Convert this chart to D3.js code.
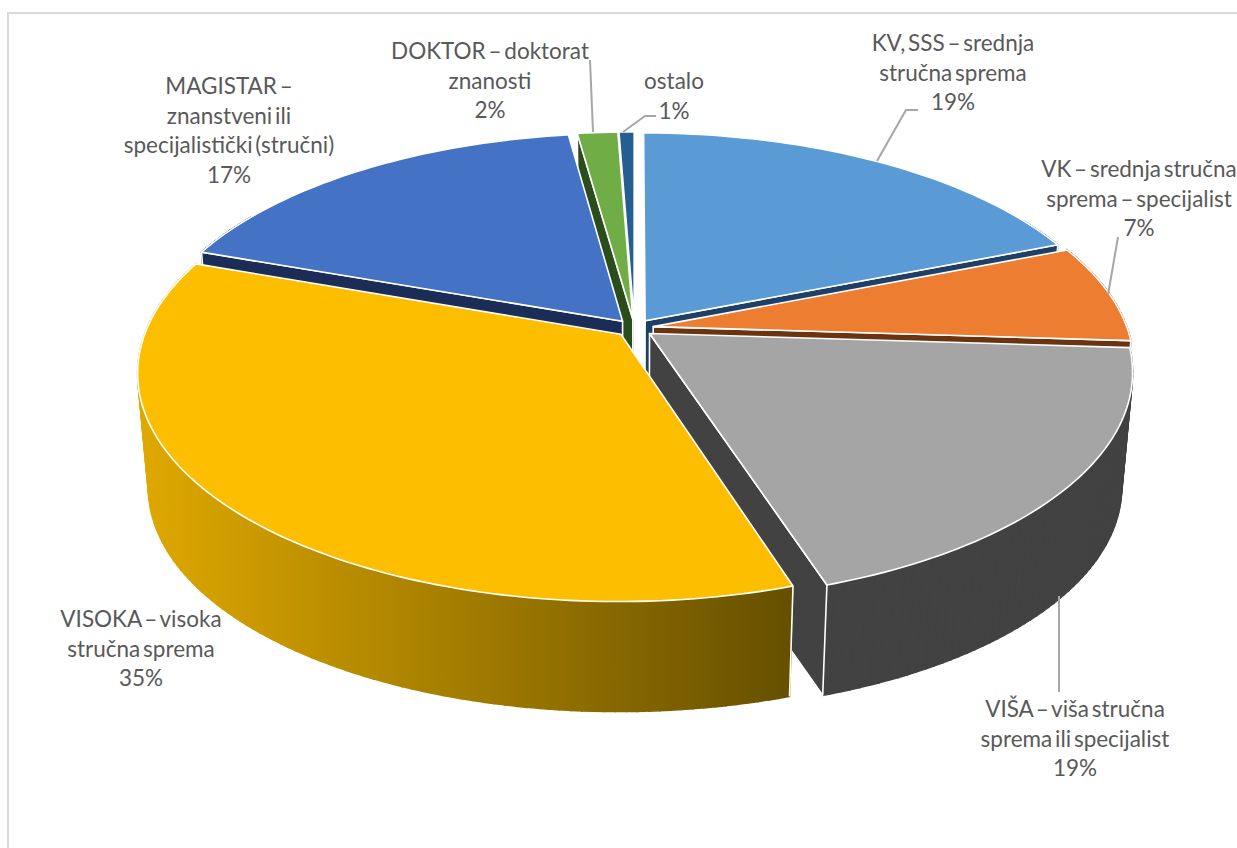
<!DOCTYPE html>
<html lang="hr">
<head>
<meta charset="utf-8">
<title>Stručna sprema</title>
<script src="https://cdn.jsdelivr.net/npm/d3@7"></script>
<style>
  html, body { margin: 0; padding: 0; background: #fff; overflow: hidden; }
  text { font-family: Lato, "Open Sans", sans-serif; fill: #595959; word-spacing: -3px; }
</style>
</head>
<body>
<script>
// data (the labels show the rounded percentages)
var categories = ['KV', 'VK', 'VISA', 'VISOKA', 'MAGISTAR', 'DOKTOR', 'ostalo'];
var shares = [19, 7, 19, 35.4, 17.4, 1.6, 0.6];
var labelLines = [
  ['KV, SSS – srednja', 'stručna sprema'],
  ['VK – srednja stručna', 'sprema – specijalist'],
  ['VIŠA – viša stručna', 'sprema ili specijalist'],
  ['VISOKA – visoka', 'stručna sprema'],
  ['MAGISTAR –', 'znanstveni ili', 'specijalistički (stručni)'],
  ['DOKTOR – doktorat', 'znanosti'],
  ['ostalo']
];

// styles per category
var topColors = ['#5b9bd5', '#ed7d31', '#a5a5a5', '#fdbe00', '#4472c4', '#70ad47', '#255e91'];
var wallColors = ['#1f3f66', '#6b3410', '#424242', 'url(#yellowWall)', '#1b2d57', '#2b4d1c', '#163a5a'];

// layout of the labels and leaders, in page pixels
var labelX = [953, 1139, 1075, 141, 229, 490, 674];
var labelY = [45, 171, 711, 621, 88, 53, 83];
var leaders = [
  [[918, 110], [906, 110], [877, 161]],
  [[1118, 237], [1108, 295]],
  [[1059, 596], [1059, 692]],
  [],
  [],
  [[590, 60], [593, 132]],
  [[656, 116], [645, 116], [623, 132]]
];

var w = 1237;
var h = 848;
var lineStep = 29.7;

// perspective of the pie plane
var cx = 634.5;
var cy = 328;
var rx = 474;
var ry = 221;
var persp = 0.165;
var explode = 0.04;
var depth = 116;
var bottomScale = 0.978;

var svg = d3.select('body').append('svg')
  .attr('width', w)
  .attr('height', h);

var grad = svg.append('defs').append('linearGradient')
  .attr('id', 'yellowWall')
  .attr('gradientUnits', 'userSpaceOnUse')
  .attr('x1', 137)
  .attr('x2', 790)
  .attr('y1', 0)
  .attr('y2', 0);
grad.append('stop').attr('offset', '0%').attr('stop-color', '#e0a900');
grad.append('stop').attr('offset', '100%').attr('stop-color', '#665000');

svg.append('rect')
  .attr('x', 8)
  .attr('y', 13)
  .attr('width', w + 50)
  .attr('height', h + 50)
  .attr('fill', '#fff')
  .attr('stroke', '#d9d9d9')
  .attr('stroke-width', 2);

var slices = d3.pie().sort(null).value(function(d) { return d; })(shares);

// plane point (angle clockwise from 12 o'clock, radius 0..1) to screen
function project(d, angle, radius, lower) {
  var mid = (d.startAngle + d.endAngle) / 2;
  var u = radius * Math.sin(angle) + explode * Math.sin(mid);
  var v = radius * Math.cos(angle) + explode * Math.cos(mid);
  var s = 1 / (1 + persp * v);
  var x = rx * u * s;
  var y = -ry * v * s;
  if (lower) {
    return [cx + x * bottomScale, cy + y * bottomScale + depth];
  }
  return [cx + x, cy + y];
}

function rimAngles(d) {
  return d3.range(d.startAngle, d.endAngle, 0.02).concat([d.endAngle]);
}

var line = d3.line();

function closed(points) {
  return line(points) + 'Z';
}

function topPath(d) {
  var pts = [project(d, 0, 0, false)];
  rimAngles(d).forEach(function(a) { pts.push(project(d, a, 1, false)); });
  return closed(pts);
}

function radialPath(d, a) {
  return closed([
    project(d, a, 0, false),
    project(d, a, 1, false),
    project(d, a, 1, true),
    project(d, a, 0, true)
  ]);
}

// back to front
var drawOrder = [0, 1, 6, 5, 4, 2, 3];

drawOrder.forEach(function(i) {
  var d = slices[i];
  var g = svg.append('g').attr('class', categories[i]);

  // the rim as single quads, one polygon would cancel itself where the wall folds
  // the back of the rim is never seen, so it is left out
  g.append('g')
    .selectAll('path')
    .data(d3.pairs(rimAngles(d)).filter(function(p) { return Math.cos(p[0]) < 0.5; }))
    .enter()
    .append('path')
    .attr('d', function(p) {
      return closed([
        project(d, p[0], 1, false),
        project(d, p[1], 1, false),
        project(d, p[1], 1, true),
        project(d, p[0], 1, true)
      ]);
    })
    .attr('fill', wallColors[i])
    .attr('stroke', wallColors[i])
    .attr('stroke-width', 1.6);

  var edges = g.append('g')
    .attr('stroke', '#fff')
    .attr('stroke-width', 1.6)
    .attr('stroke-linejoin', 'round');

  // front corner of a slice whose cut wall is hidden
  if (Math.cos(d.startAngle) < -0.5) {
    edges.append('path')
      .attr('d', line([project(d, d.startAngle, 1, false), project(d, d.startAngle, 1, true)]));
  }
  if (Math.sin(d.startAngle) < -0.001) {
    edges.append('path').attr('d', radialPath(d, d.startAngle)).attr('fill', wallColors[i]);
  }
  if (Math.sin(d.endAngle) > 0.001) {
    edges.append('path').attr('d', radialPath(d, d.endAngle)).attr('fill', wallColors[i]);
  }
  edges.append('path').attr('d', topPath(d)).attr('fill', topColors[i]);
});

svg.selectAll('path.leader')
  .data(leaders.filter(function(l) { return l.length > 0; }))
  .enter()
  .append('path')
  .attr('class', 'leader')
  .attr('d', function(l) { return line(l); })
  .attr('fill', 'none')
  .attr('stroke', '#a6a6a6')
  .attr('stroke-width', 2);

categories.forEach(function(c, i) {
  var lines = labelLines[i].concat([Math.round(shares[i]) + '%']);
  svg.append('text')
    .attr('text-anchor', 'middle')
    .attr('font-size', '22.5px')
    .selectAll('tspan')
    .data(lines)
    .enter()
    .append('tspan')
    .attr('x', labelX[i])
    .attr('y', function(t, j) { return labelY[i] + 6 + j * lineStep; })
    .text(function(t) { return t; });
});
</script>
</body>
</html>
